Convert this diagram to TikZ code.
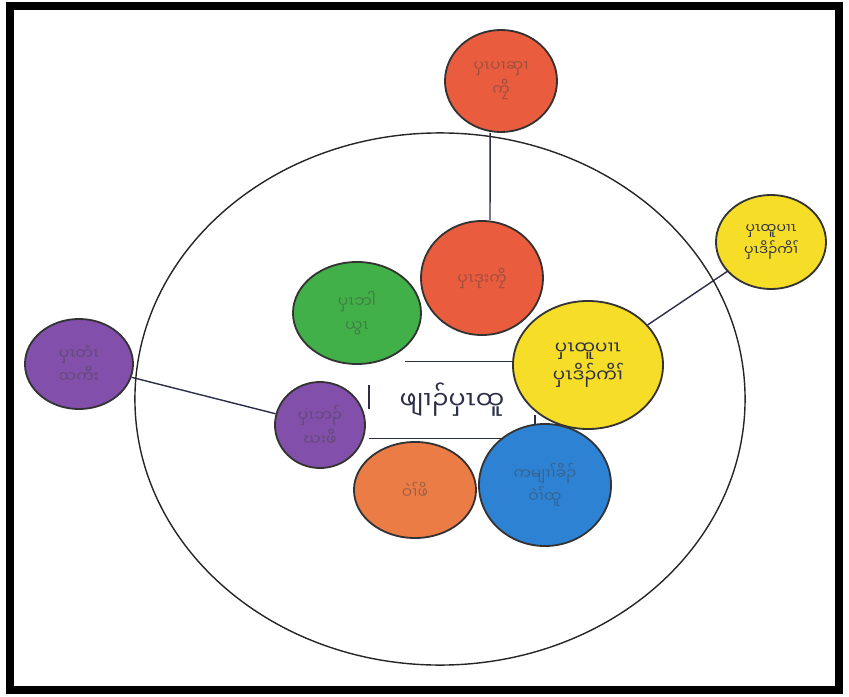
\documentclass[tikz,border=0pt]{standalone}
\usepackage{fontspec}
\newfontfamily\karen[Script=Myanmar]{Noto Sans Myanmar UI}
\usetikzlibrary{
    positioning,
    calc,
    shapes.geometric,
    backgrounds
}
\definecolor{crayonRed}{RGB}{234,92,62}
\definecolor{crayonGreen}{RGB}{66,176,72}
\definecolor{crayonYellow}{RGB}{246,222,40}
\definecolor{crayonPurple}{RGB}{130,80,170}
\definecolor{crayonOrange}{RGB}{236,124,70}
\definecolor{crayonBlue}{RGB}{46,130,212}
\definecolor{pencil}{RGB}{44,46,72}
\tikzset{
    bubble/.style={
        draw=black!80,
        ellipse,
        line width=1.3pt,
        inner sep=0pt,
        align=center,
        font=\karen\fontsize{11}{17}\selectfont,
        text=black!75,
        text opacity=0.45
    }
}
\tikzset{
    link/.style={
        draw=pencil,
        line width=1pt
    }
}
\tikzset{
    corelabel/.style={
        rectangle,
        inner sep=0pt,
        minimum width=4.125cm,
        minimum height=1.925cm,
        font=\karen\fontsize{18}{20}\selectfont,
        text=pencil
    }
}

\begin{document}
\begin{tikzpicture}[x=0.025cm, y=-0.025cm]

\useasboundingbox (0,0) rectangle (849,697);

% ------------------------------------------------------------
% Frame and community ring
% ------------------------------------------------------------

\draw[line width=5pt] (10,6) rectangle (839,690);

\node[
    ellipse,
    draw=black!85,
    line width=1pt,
    minimum width=15.25cm,
    minimum height=13.3cm
] (ring) at (440,399) {};

% ------------------------------------------------------------
% Centre person
% ------------------------------------------------------------

\node[corelabel] (core) at (452,400) {ဖျၢၣ်ပှၤထူ};

\draw[link] ([xshift=0.9cm]core.north west) -- (core.north east);
\draw[link] (core.south west) -- (core.south east);
\draw[link] ([yshift=-0.6cm]core.north west) -- ([yshift=-1.2cm]core.north west);
\draw[link] ([yshift=0.2cm]core.south east) -- ([yshift=0.6cm]core.south east);

% ------------------------------------------------------------
% Bubbles inside the ring
% ------------------------------------------------------------

\node[bubble, fill=crayonRed, minimum width=3.05cm, minimum height=2.85cm]
    (redmid) at (482,278) {ပှၤဒုးကၠိ};

\node[bubble, fill=crayonGreen, minimum width=3.2cm, minimum height=2.55cm]
    (green) at (357,313) {ပှၤဘါ\\ယွၤ};

\node[bubble, fill=crayonYellow, minimum width=3.75cm, minimum height=3.2cm,
    text=pencil, text opacity=1, font=\karen\fontsize{13}{20}\selectfont]
    (yelbig) at (588,365) {ပှၤထူပၢၤ\\ပှၤဒိၣ်ကိၢ်};

\node[bubble, fill=crayonPurple, minimum width=2.25cm, minimum height=2.15cm]
    (purplemid) at (320,425) {ပှၤဘၣ်\\ဃးဖိ};

\node[bubble, fill=crayonOrange, minimum width=3.05cm, minimum height=2.4cm]
    (orange) at (415,490) {ဝဲၢ်ဖိ};

\node[bubble, fill=crayonBlue, minimum width=3.3cm, minimum height=3.05cm]
    (blue) at (545,485) {ကမျၢၢ်ခိၣ်\\ဝဲၢ်ထူ};

% ------------------------------------------------------------
% Bubbles outside the ring
% ------------------------------------------------------------

\node[bubble, fill=crayonRed, minimum width=2.8cm, minimum height=2.55cm]
    (redtop) at (501,81) {ပှၤပၢဆှၢ\\ကၠိ};

\node[bubble, fill=crayonYellow, minimum width=2.75cm, minimum height=2.35cm,
    text=pencil, text opacity=1, font=\karen\fontsize{10}{16}\selectfont]
    (yelsmall) at (771,242) {ပှၤထူပၢၤ\\ပှၤဒိၣ်ကိၢ်};

\node[bubble, fill=crayonPurple, minimum width=2.7cm, minimum height=2.25cm]
    (purpleout) at (79,364) {ပှၤတံၤ\\သကိး};

% ------------------------------------------------------------
% Links
% ------------------------------------------------------------

\begin{scope}[on background layer]
    \draw[link] ([xshift=-0.27cm]redtop.south) -- ([xshift=0.2cm]redmid.north);
    \draw[link] (yelbig) -- (yelsmall);
    \draw[link] (purpleout) -- (purplemid);
\end{scope}

\end{tikzpicture}
\end{document}
